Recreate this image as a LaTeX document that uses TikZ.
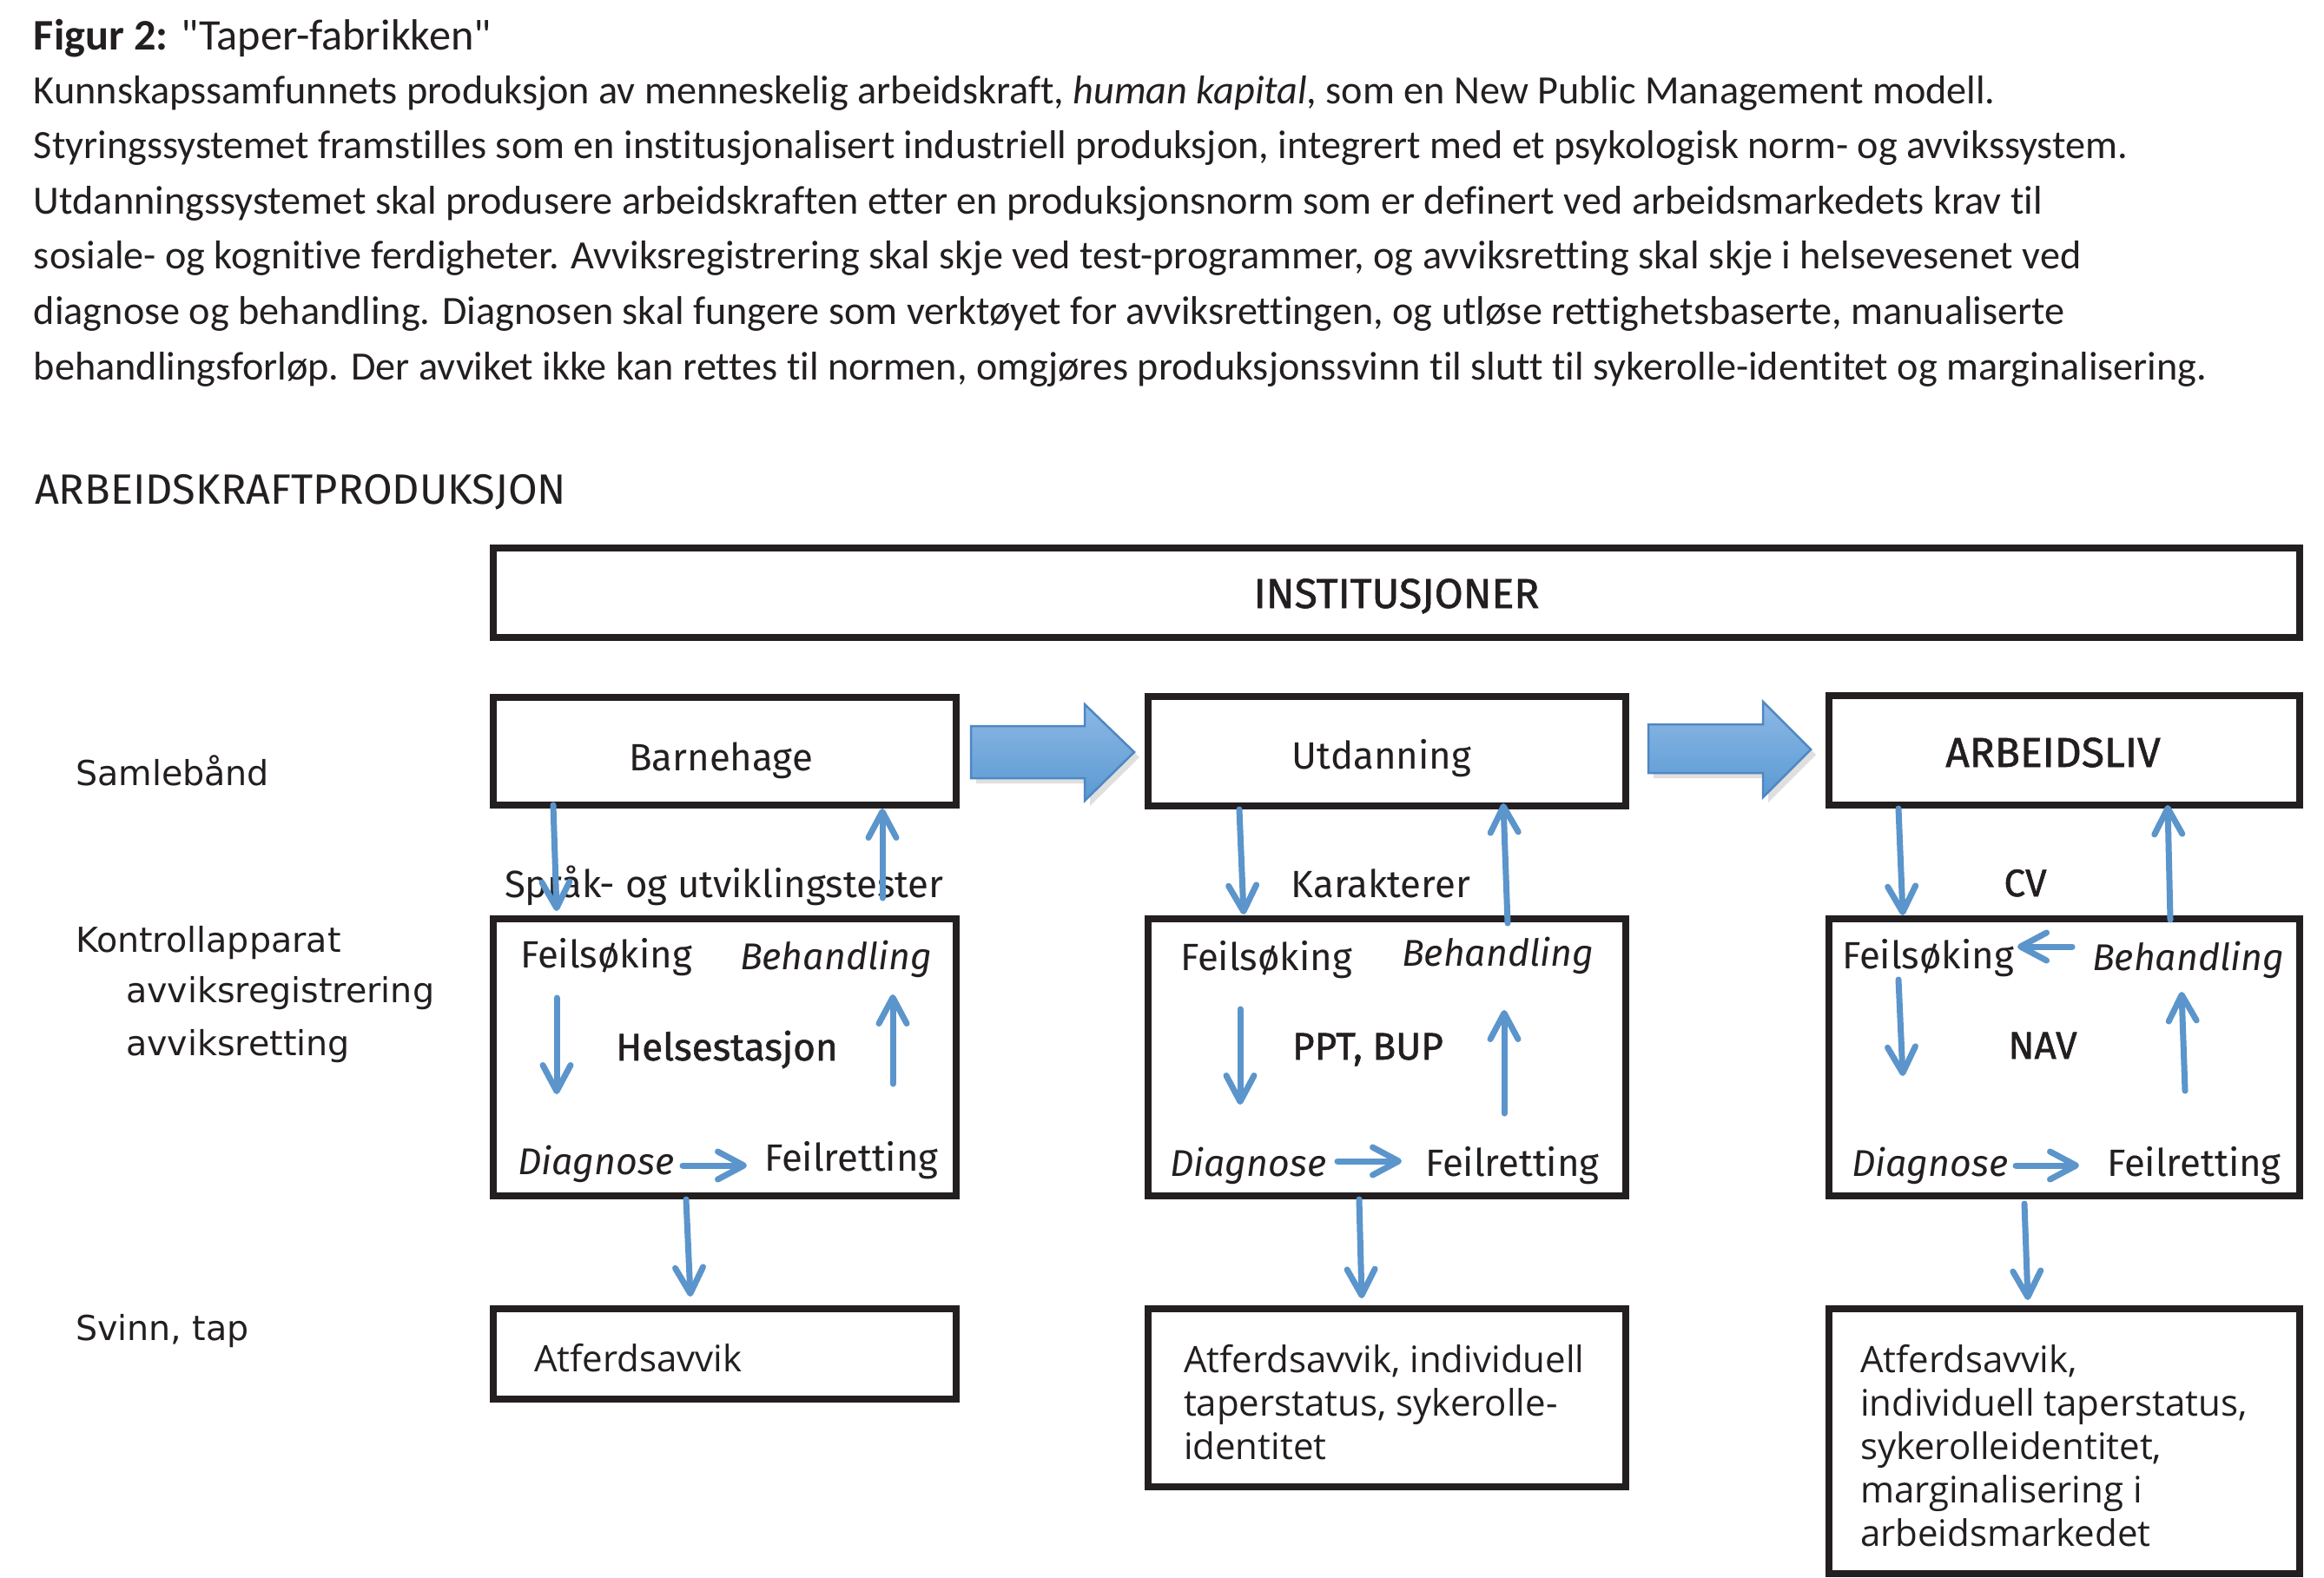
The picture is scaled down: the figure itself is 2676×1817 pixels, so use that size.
\documentclass[tikz,border=0pt]{standalone}
\usepackage{fontspec}
\setmainfont[Ligatures={NoCommon}]{Carlito}
\newfontfamily\fira{Fira Sans}
\newfontfamily\firamed[FakeBold=1.2]{Fira Sans}
\newfontfamily\dejavu{DejaVu Sans}
\newfontfamily\opensans{Open Sans}
\newcommand\straightquote{\XeTeXglyph\XeTeXcharglyph"22\relax}
\usetikzlibrary{arrows.meta,fit,shadows}
\definecolor{ink}{HTML}{231F20}
\definecolor{ablue}{HTML}{5B95CB}
\definecolor{atop}{HTML}{8DB8E5}
\definecolor{abot}{HTML}{5A9AD3}
\definecolor{aedge}{HTML}{4F87C2}
\begin{document}
\begin{tikzpicture}[x=0.1mm,y=-0.1mm,
  every node/.style={text=ink, inner sep=0pt, outer sep=0pt},
  box/.style={draw=ink, line width=0.75mm, inner sep=0pt, fit={#1}},
  conn/.style={draw=ablue, line width=0.7mm, line cap=round, line join=round,
    -{Straight Barb[length=3mm,width=3.2mm,round]}},
  blockarrow/.style={draw=aedge, line width=0.25mm, top color=atop, bottom color=abot,
    drop shadow={opacity=0.25, shadow xshift=0.6mm, shadow yshift=-0.6mm}},
  para/.style={anchor=base west, font=\fontsize{13.15pt}{16pt}\selectfont},
  bt/.style={font=\fira\fontsize{12.45pt}{15pt}\selectfont},
  bti/.style={font=\fira\itshape\fontsize{12.2pt}{15pt}\selectfont},
  btm/.style={font=\firamed\fontsize{12.52pt}{15pt}\selectfont},
  big/.style={font=\firamed\fontsize{13.66pt}{16pt}\selectfont},
  side/.style={anchor=base west, font=\dejavu\fontsize{11.27pt}{14pt}\selectfont},
  low/.style={anchor=base west, font=\opensans\fontsize{11.95pt}{14pt}\selectfont}
]
\useasboundingbox[fill=white] (0,0) rectangle (2676,1817);

% ---- heading text ----
\node[anchor=base west, font=\fontsize{14.3pt}{17pt}\selectfont] (title) at (39,58) {\textbf{Figur 2:} \straightquote Taper-fabrikken\straightquote};
\node[para] (p1) at (39,120) {Kunnskapssamfunnets produksjon av menneskelig arbeidskraft, \textit{human kapital}, som en New Public Management modell.};
\node[para] (p2) at (39,183) {Styringssystemet framstilles som en institusjonalisert industriell produksjon, integrert med et psykologisk norm- og avvikssystem.};
\node[para] (p3) at (39,247) {Utdanningssystemet skal produsere arbeidskraften etter en produksjonsnorm som er definert ved arbeidsmarkedets krav til};
\node[para] (p4) at (39,310) {sosiale- og kognitive ferdigheter. Avviksregistrering skal skje ved test-programmer, og avviksretting skal skje i helsevesenet ved};
\node[para] (p5) at (39,373) {diagnose og behandling. Diagnosen skal fungere som verktøyet for avviksrettingen, og utløse rettighetsbaserte, manualiserte};
\node[para] (p6) at (39,437) {behandlingsforløp. Der avviket ikke kan rettes til normen, omgjøres produksjonssvinn til slutt til sykerolle-identitet og marginalisering.};

\node[anchor=base west, font=\fira\fontsize{13.87pt}{16pt}\selectfont] (head) at (40,580) {ARBEIDSKRAFTPRODUKSJON};

% ---- left labels ----
\node[side] (l1) at (87,904) {Samlebånd};
\node[side] (l2) at (87,1096) {Kontrollapparat};
\node[side] (l3) at (145,1154) {avviksregistrering};
\node[side] (l4) at (145,1215) {avviksretting};
\node[side] (l5) at (87,1543) {Svinn, tap};

% ---- boxes ----
\node[box={(568,631) (2648,734)}] (inst) {};
\node[big, anchor=base] (instt) at (1608,700) {INSTITUSJONER};

\node[box={(568,803) (1101,927)}] (bh) {};
\node[box={(1322,802) (1872,928)}] (ut) {};
\node[box={(2106,801) (2648,927)}] (ar) {};
\node[box={(568,1058) (1101,1377)}] (bhk) {};
\node[box={(1322,1058) (1872,1377)}] (utk) {};
\node[box={(2106,1058) (2648,1377)}] (ark) {};
\node[box={(568,1507) (1101,1611)}] (bhs) {};
\node[box={(1322,1507) (1872,1712)}] (uts) {};
\node[box={(2106,1507) (2648,1812)}] (ars) {};

% ---- block arrows ----
\path[blockarrow] (1118,836) -- (1249,836) -- (1249,811) -- (1306,866) -- (1249,922) -- (1249,896) -- (1118,896) -- cycle;
\path[blockarrow] (1898,834) -- (2030,834) -- (2030,808) -- (2085,863) -- (2030,918) -- (2030,890) -- (1898,890) -- cycle;

% ---- row texts ----
\node[bt, anchor=base] (bht) at (830,887) {Barnehage};
\node[bt, anchor=base] (utt) at (1591,885) {Utdanning};
\node[big, anchor=base] (art) at (2364,883) {ARBEIDSLIV};

\node[bt, anchor=base west] (sprak) at (581,1033) {Språk- og utviklingstester};
\node[bt, anchor=base] (kar) at (1590,1033) {Karakterer};
\node[btm, anchor=base] (cv) at (2332,1032) {CV};

% Barnehage control
\node[bt, anchor=base west] (bf) at (599,1114) {Feilsøking};
\node[bti, anchor=base west] (bb) at (852,1116) {Behandling};
\node[btm, anchor=base] (bhel) at (837,1221) {Helsestasjon};
\node[bti, anchor=base west] (bd) at (596,1352) {Diagnose};
\node[bt, anchor=base west] (bfr) at (880,1348) {Feilretting};

% Utdanning control
\node[bt, anchor=base west] (uf) at (1359,1117) {Feilsøking};
\node[bti, anchor=base west] (ub) at (1614,1112) {Behandling};
\node[btm, anchor=base] (uppt) at (1575,1220) {PPT, BUP};
\node[bti, anchor=base west] (ud) at (1347,1354) {Diagnose};
\node[bt, anchor=base west] (ufr) at (1641,1354) {Feilretting};

% Arbeidsliv control
\node[bt, anchor=base west] (af) at (2121,1115) {Feilsøking};
\node[bti, anchor=base west] (ab) at (2409,1117) {Behandling};
\node[btm, anchor=base] (anav) at (2352,1219) {NAV};
\node[bti, anchor=base west] (ad) at (2132,1354) {Diagnose};
\node[bt, anchor=base west] (afr) at (2426,1354) {Feilretting};

% bottom texts
\node[low] (bs1) at (615,1579) {Atferdsavvik};
\node[low] (us1) at (1363,1580) {Atferdsavvik, individuell};
\node[low] (us2) at (1363,1630) {taperstatus, sykerolle-};
\node[low] (us3) at (1363,1680) {identitet};
\node[low] (as1) at (2142,1580) {Atferdsavvik,};
\node[low] (as2) at (2142,1630) {individuell taperstatus,};
\node[low] (as3) at (2142,1680) {sykerolleidentitet,};
\node[low] (as4) at (2142,1730) {marginalisering i};
\node[low] (as5) at (2142,1780) {arbeidsmarkedet};

% ---- connector end points ----
\coordinate (b1a) at (637,927);  \coordinate (b1b) at (641,1049);
\coordinate (b2a) at (1016,1034); \coordinate (b2b) at (1016,931);
\coordinate (b3a) at (641,1149); \coordinate (b3b) at (641,1260);
\coordinate (b4a) at (1028,1248); \coordinate (b4b) at (1028,1145);
\coordinate (b5a) at (786,1342); \coordinate (b5b) at (860,1342);
\coordinate (b6a) at (790,1381); \coordinate (b6b) at (795,1493);

\coordinate (u1a) at (1427,932); \coordinate (u1b) at (1432,1053);
\coordinate (u2a) at (1736,1063); \coordinate (u2b) at (1731,925);
\coordinate (u3a) at (1428,1162); \coordinate (u3b) at (1428,1272);
\coordinate (u4a) at (1732,1282); \coordinate (u4b) at (1732,1163);
\coordinate (u5a) at (1540,1337); \coordinate (u5b) at (1614,1337);
\coordinate (u6a) at (1565,1381); \coordinate (u6b) at (1568,1495);

\coordinate (a1a) at (2186,931); \coordinate (a1b) at (2191,1054);
\coordinate (a2a) at (2499,1059); \coordinate (a2b) at (2496,927);
\coordinate (a7a) at (2386,1090); \coordinate (a7b) at (2323,1090);
\coordinate (a3a) at (2186,1128); \coordinate (a3b) at (2191,1239);
\coordinate (a4a) at (2516,1256); \coordinate (a4b) at (2512,1142);
\coordinate (a5a) at (2321,1342); \coordinate (a5b) at (2394,1342);
\coordinate (a6a) at (2331,1386); \coordinate (a6b) at (2335,1497);

\foreach \p in {b1,b2,b3,b4,b5,b6,u1,u2,u3,u4,u5,u6,a1,a2,a3,a4,a5,a6,a7}
  \draw[conn] (\p a) -- (\p b);
\end{tikzpicture}
\end{document}
